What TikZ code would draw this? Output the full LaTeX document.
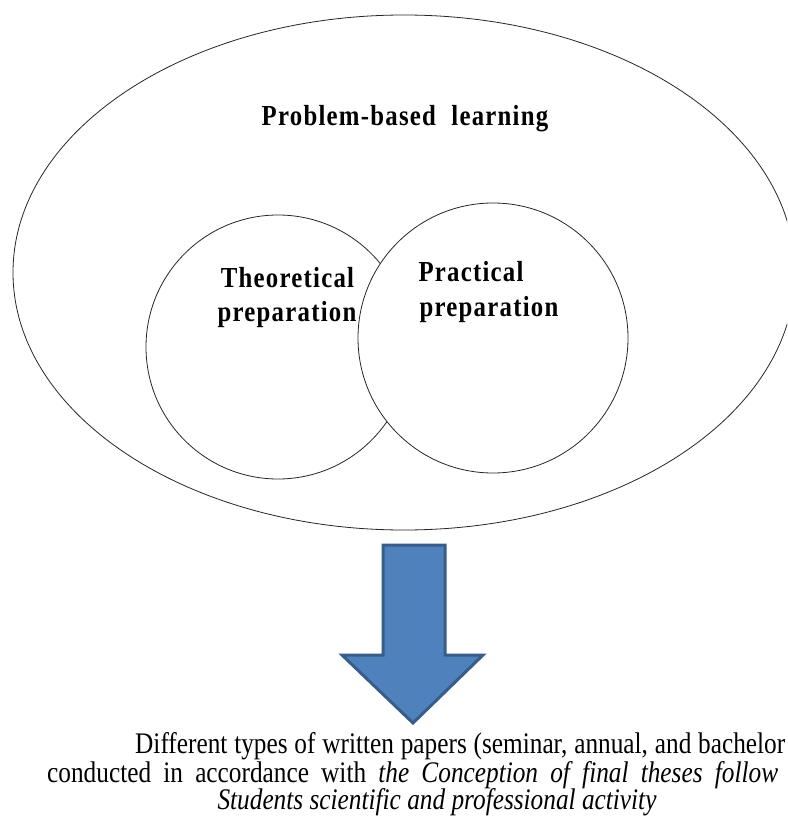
\documentclass[tikz,border=0pt]{standalone}
\usepackage{fontspec}
\setmainfont{Liberation Serif}[
  UprightFont={Liberation Serif},
  ItalicFont={Liberation Serif Italic},
  BoldFont={Liberation Serif Bold},
  BoldItalicFont={Liberation Serif Bold Italic}]
\newfontfamily\labfont{Liberation Serif Bold}[LetterSpace=5]
\definecolor{arrowfill}{HTML}{4F81BD}
\definecolor{arrowline}{HTML}{385D8A}
\newcommand{\labtxt}[1]{\scalebox{1}[1.17]{#1}}
\newcommand{\bodytxt}[1]{\scalebox{1}[1.18]{#1}}
\begin{document}
\begin{tikzpicture}[x=1pt,y=-1pt,
  ring/.style={draw=black!85,line width=0.8pt,fill=white},
  lab/.style={font=\labfont\fontsize{24.8}{33}\selectfont,align=center,inner sep=0pt,anchor=base},
  bodytext/.style={font=\fontsize{25.3}{29}\selectfont,inner sep=0pt,anchor=base west}]
\useasboundingbox (0,0) rectangle (787,821);
\clip (0,0) rectangle (787,821);
\fill[white] (0,0) rectangle (787,821);
\draw[ring] (404,272.5) ellipse [x radius=391, y radius=257.5];
\draw[ring] (278,347) circle [radius=132];
\draw[ring] (493,338) circle [radius=135];
\node[lab] (pbl) at (405,126) {\labtxt{Problem-based\hspace{8pt} learning}};
\node[lab] (theo1) at (287.5,287) {\labtxt{Theoretical}};
\node[lab] (theo2) at (287,321) {\labtxt{preparation}};
\node[lab] (prac1) at (471,281) {\labtxt{Practical}};
\node[lab] (prac2) at (489,316) {\labtxt{preparation}};
\draw[line width=3pt,draw=arrowline,fill=arrowfill,line join=miter]
  (383,545) -- (445,545) -- (445,655) -- (483,655) -- (413,723) -- (342,655) -- (383,655) -- cycle;
\node[bodytext] (l1) at (135,753) {\bodytxt{\spaceskip=6.8pt Different types of written papers (seminar, annual, and bachelor}};
\node[bodytext] (l2) at (47,782) {\bodytxt{\spaceskip=12.2pt conducted in accordance with \textit{the Conception of final theses follow}}};
\node[bodytext,anchor=base] (l3) at (437,809) {\bodytxt{\textit{Students scientific and professional activity}}};
\end{tikzpicture}
\end{document}
